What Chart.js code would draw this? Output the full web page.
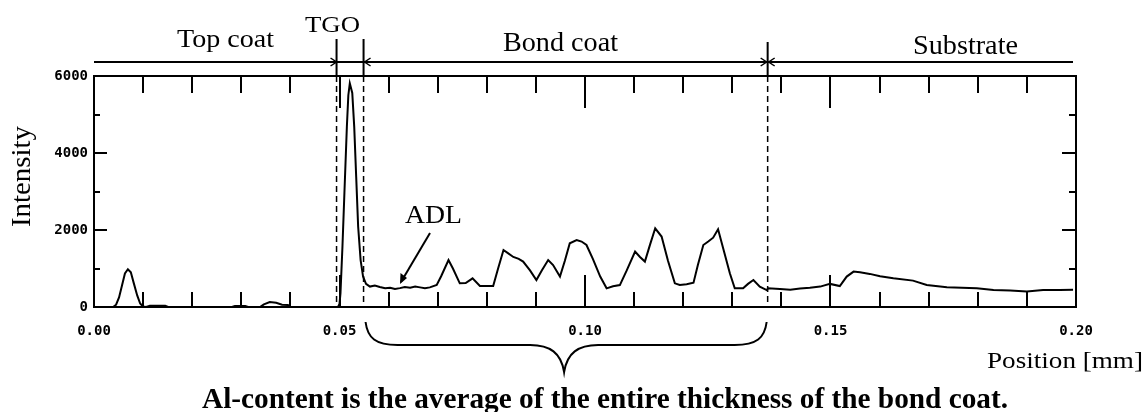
<!DOCTYPE html>
<html>
<head>
<meta charset="utf-8">
<script src="https://cdn.jsdelivr.net/npm/chart.js@4.4.1/dist/chart.umd.min.js"></script>
<style>
  html, body { margin: 0; padding: 0; background: #fff; }
  #wrap { width: 1145px; height: 412px; position: relative; }
</style>
</head>
<body>
<div id="wrap"><canvas id="profileChart"></canvas></div>
<script>
// line profile across the coating
const positionMm = [
  0.0000, 0.0039, 0.0045, 0.0051, 0.0057, 0.0063, 0.0069, 0.0075, 0.0081, 0.0088,
  0.0094, 0.0100, 0.0106, 0.0114, 0.0124, 0.0145, 0.0151, 0.0281, 0.0287, 0.0308,
  0.0314, 0.0338, 0.0346, 0.0358, 0.0371, 0.0383, 0.0395, 0.0401, 0.0497, 0.0500,
  0.0502, 0.0506, 0.0510, 0.0515, 0.0518, 0.0521, 0.0526, 0.0530, 0.0534, 0.0538,
  0.0543, 0.0548, 0.0554, 0.0562, 0.0572, 0.0582, 0.0593, 0.0603, 0.0613, 0.0623,
  0.0633, 0.0644, 0.0654, 0.0664, 0.0674, 0.0684, 0.0698, 0.0707, 0.0722, 0.0731,
  0.0745, 0.0757, 0.0771, 0.0786, 0.0813, 0.0823, 0.0834, 0.0843, 0.0854, 0.0865,
  0.0874, 0.0888, 0.0901, 0.0912, 0.0925, 0.0935, 0.0949, 0.0959, 0.0969, 0.0983,
  0.0993, 0.1003, 0.1016, 0.1031, 0.1044, 0.1057, 0.1071, 0.1085, 0.1102, 0.1112,
  0.1122, 0.1132, 0.1143, 0.1156, 0.1169, 0.1183, 0.1193, 0.1207, 0.1221, 0.1230,
  0.1241, 0.1251, 0.1261, 0.1271, 0.1283, 0.1295, 0.1305, 0.1322, 0.1332, 0.1343,
  0.1356, 0.1370, 0.1373, 0.1397, 0.1418, 0.1438, 0.1458, 0.1479, 0.1499, 0.1519,
  0.1533, 0.1547, 0.1560, 0.1580, 0.1601, 0.1628, 0.1668, 0.1696, 0.1737, 0.1798,
  0.1832, 0.1866, 0.1900, 0.1933, 0.1967, 0.1994
];
const intensity = [
  0, 0, 60, 250, 560, 870, 980, 900, 620, 300,
  90, 10, 0, 30, 35, 30, 0, 0, 25, 25,
  0, 0, 70, 130, 110, 60, 50, 0, 0, 80,
  360, 1565, 2960, 4680, 5500, 5810, 5560, 4680, 3380, 2085,
  1220, 790, 600, 530, 560, 520, 490, 500, 470, 490,
  520, 500, 530, 510, 490, 510, 570, 800, 1220, 1000,
  615, 620, 745, 545, 545, 1000, 1480, 1400, 1300, 1250,
  1180, 950, 700, 950, 1220, 1090, 790, 1200, 1655, 1740,
  1700, 1610, 1250, 790, 485, 540, 570, 950, 1440, 1300,
  1180, 1600, 2045, 1830, 1200, 615, 570, 590, 630, 1100,
  1610, 1700, 1800, 2020, 1450, 875, 485, 485, 600, 700,
  530, 440, 485, 470, 450, 480, 500, 530, 600, 545,
  790, 920, 900, 860, 800, 745, 685, 570, 510, 485,
  440, 430, 400, 440, 440, 445
];

// interfaces between the layers (mm)
const layerBounds = [0.0494, 0.0549, 0.1372];
const layerNames = ['Top coat', 'TGO', 'Bond coat', 'Substrate'];

const xLabelStep = 0.05;
const xMinorStep = 0.01;
const yLabelStep = 2000;
const yMinorStep = 1000;

const yTitle = 'Intensity';
const xTitle = 'Position [mm]';
const adlText = 'ADL';
const noteText = 'Al-content is the average of the entire thickness of the bond coat.';

// draw serif text stretched to a measured width
function fitText(ctx, text, left, baseline, size, width, bold) {
  ctx.save();
  ctx.font = (bold ? 'bold ' : '') + size + 'px "Liberation Serif", "Times New Roman", serif';
  const w = ctx.measureText(text).width;
  ctx.translate(left, baseline);
  ctx.scale(width / w, 1);
  ctx.textAlign = 'left';
  ctx.textBaseline = 'alphabetic';
  ctx.fillText(text, 0, 0);
  ctx.restore();
}

function arrowHead(ctx, x, y, dir, len, half) {
  ctx.beginPath();
  ctx.moveTo(x - dir * len, y - half);
  ctx.lineTo(x, y);
  ctx.lineTo(x - dir * len, y + half);
  ctx.stroke();
}

const decorations = {
  id: 'decorations',
  afterDraw(chart) {
    const ctx = chart.ctx;
    const xs = chart.scales.x;
    const ys = chart.scales.y;
    const a = chart.chartArea;
    ctx.save();
    ctx.strokeStyle = '#000';
    ctx.fillStyle = '#000';
    ctx.lineWidth = 2;

    // top and right frame
    ctx.beginPath();
    ctx.moveTo(a.left, a.top);
    ctx.lineTo(a.right, a.top);
    ctx.lineTo(a.right, a.bottom);
    ctx.stroke();

    // inward ticks on all four sides
    ctx.beginPath();
    for (let v = xMinorStep; v < xs.max - 1e-9; v += xMinorStep) {
      const px = Math.round(xs.getPixelForValue(v));
      const major = Math.abs(v / xLabelStep - Math.round(v / xLabelStep)) < 1e-6;
      ctx.moveTo(px, a.top);
      ctx.lineTo(px, a.top + (major ? 32 : 17));
      ctx.moveTo(px, a.bottom);
      ctx.lineTo(px, a.bottom - (major ? 32 : 15));
    }
    for (let v = yMinorStep; v < ys.max; v += yMinorStep) {
      const py = Math.round(ys.getPixelForValue(v));
      const major = v % yLabelStep === 0;
      ctx.moveTo(a.left, py);
      ctx.lineTo(a.left + (major ? 13 : 6), py);
      ctx.moveTo(a.right, py);
      ctx.lineTo(a.right - (major ? 14 : 7), py);
    }
    ctx.stroke();

    // layer interfaces: dashed inside, solid above the frame
    const bx = layerBounds.map(v => xs.getPixelForValue(v));
    ctx.lineWidth = 1.5;
    ctx.setLineDash([6, 4]);
    ctx.beginPath();
    bx.forEach(px => { ctx.moveTo(px, a.top); ctx.lineTo(px, a.bottom); });
    ctx.stroke();
    ctx.setLineDash([]);
    ctx.lineWidth = 2;
    ctx.beginPath();
    bx.forEach((px, i) => { ctx.moveTo(px, i === 2 ? 42 : 39); ctx.lineTo(px, a.top); });
    // dimension line
    const lineY = 62;
    ctx.moveTo(a.left, lineY);
    ctx.lineTo(a.right - 3, lineY);
    ctx.stroke();
    ctx.lineWidth = 1.5;
    arrowHead(ctx, bx[0], lineY, 1, 6, 4);
    arrowHead(ctx, bx[1] + 1, lineY, -1, 6, 4);
    arrowHead(ctx, bx[2] - 1, lineY, 1, 6, 4);
    arrowHead(ctx, bx[2] + 1, lineY, -1, 6, 4);

    // layer names
    fitText(ctx, layerNames[0], 177, 47, 26, 97);
    fitText(ctx, layerNames[1], 305, 32, 24, 55);
    fitText(ctx, layerNames[2], 503, 51, 28, 115);
    fitText(ctx, layerNames[3], 913, 54, 28, 105);

    // ADL pointer
    fitText(ctx, adlText, 405, 223, 25, 57);
    ctx.lineWidth = 2;
    ctx.beginPath();
    ctx.moveTo(430, 233);
    ctx.lineTo(401, 282);
    ctx.stroke();
    ctx.beginPath();
    ctx.moveTo(400, 284);
    ctx.lineTo(400.5, 273);
    ctx.lineTo(407, 278);
    ctx.closePath();
    ctx.fill();

    // axis titles
    ctx.save();
    ctx.translate(30, 227);
    ctx.rotate(-Math.PI / 2);
    fitText(ctx, yTitle, 0, 0, 27, 101);
    ctx.restore();
    fitText(ctx, xTitle, 987, 368, 23, 156);

    // brace under the bond coat
    const xl = bx[1] + 2, xr = bx[2] - 1, xm = (xl + xr) / 2 - 2;
    const top = 322, mid = 345, tip = 372;
    ctx.lineWidth = 2;
    ctx.beginPath();
    ctx.moveTo(xl, top);
    ctx.bezierCurveTo(xl + 2, top + 16, xl + 10, mid, xl + 32, mid);
    ctx.lineTo(xm - 34, mid);
    ctx.bezierCurveTo(xm - 14, mid, xm - 3, mid + 8, xm, tip);
    ctx.bezierCurveTo(xm + 3, mid + 8, xm + 14, mid, xm + 34, mid);
    ctx.lineTo(xr - 32, mid);
    ctx.bezierCurveTo(xr - 10, mid, xr - 2, top + 16, xr, top);
    ctx.stroke();

    fitText(ctx, noteText, 202, 408, 29, 806, true);
    ctx.restore();
  }
};

const tickFont = { family: '"DejaVu Sans Mono", monospace', weight: 'bold', size: 14 };

const ctx = document.getElementById('profileChart').getContext('2d');
const profileChart = new Chart(ctx, {
  type: 'line',
  data: {
    datasets: [{
      label: yTitle,
      data: positionMm.map((x, i) => ({ x: x, y: intensity[i] })),
      borderColor: '#000',
      borderWidth: 2,
      pointRadius: 0,
      tension: 0,
      fill: false
    }]
  },
  options: {
    responsive: true,
    maintainAspectRatio: false,
    animation: false,
    layout: {
      padding: { top: 76, right: 69, left: 0, bottom: 0 }
    },
    plugins: {
      legend: { display: false },
      tooltip: { enabled: false }
    },
    scales: {
      x: {
        type: 'linear',
        min: 0,
        max: 0.2,
        grid: { display: false, drawTicks: false, tickLength: 0 },
        border: { display: true, color: '#000', width: 2 },
        ticks: {
          stepSize: xLabelStep,
          autoSkip: false,
          maxRotation: 0,
          padding: 16,
          color: '#000',
          font: tickFont,
          callback: v => Number(v).toFixed(2)
        },
        afterFit: s => { s.height = 105; }
      },
      y: {
        min: 0,
        max: 6000,
        grid: { display: false, drawTicks: false, tickLength: 0 },
        border: { display: true, color: '#000', width: 2 },
        ticks: {
          stepSize: yLabelStep,
          padding: 6,
          color: '#000',
          font: tickFont,
          callback: v => String(v)
        },
        afterFit: s => { s.width = 94; }
      }
    }
  },
  plugins: [decorations]
});
</script>
</body>
</html>
